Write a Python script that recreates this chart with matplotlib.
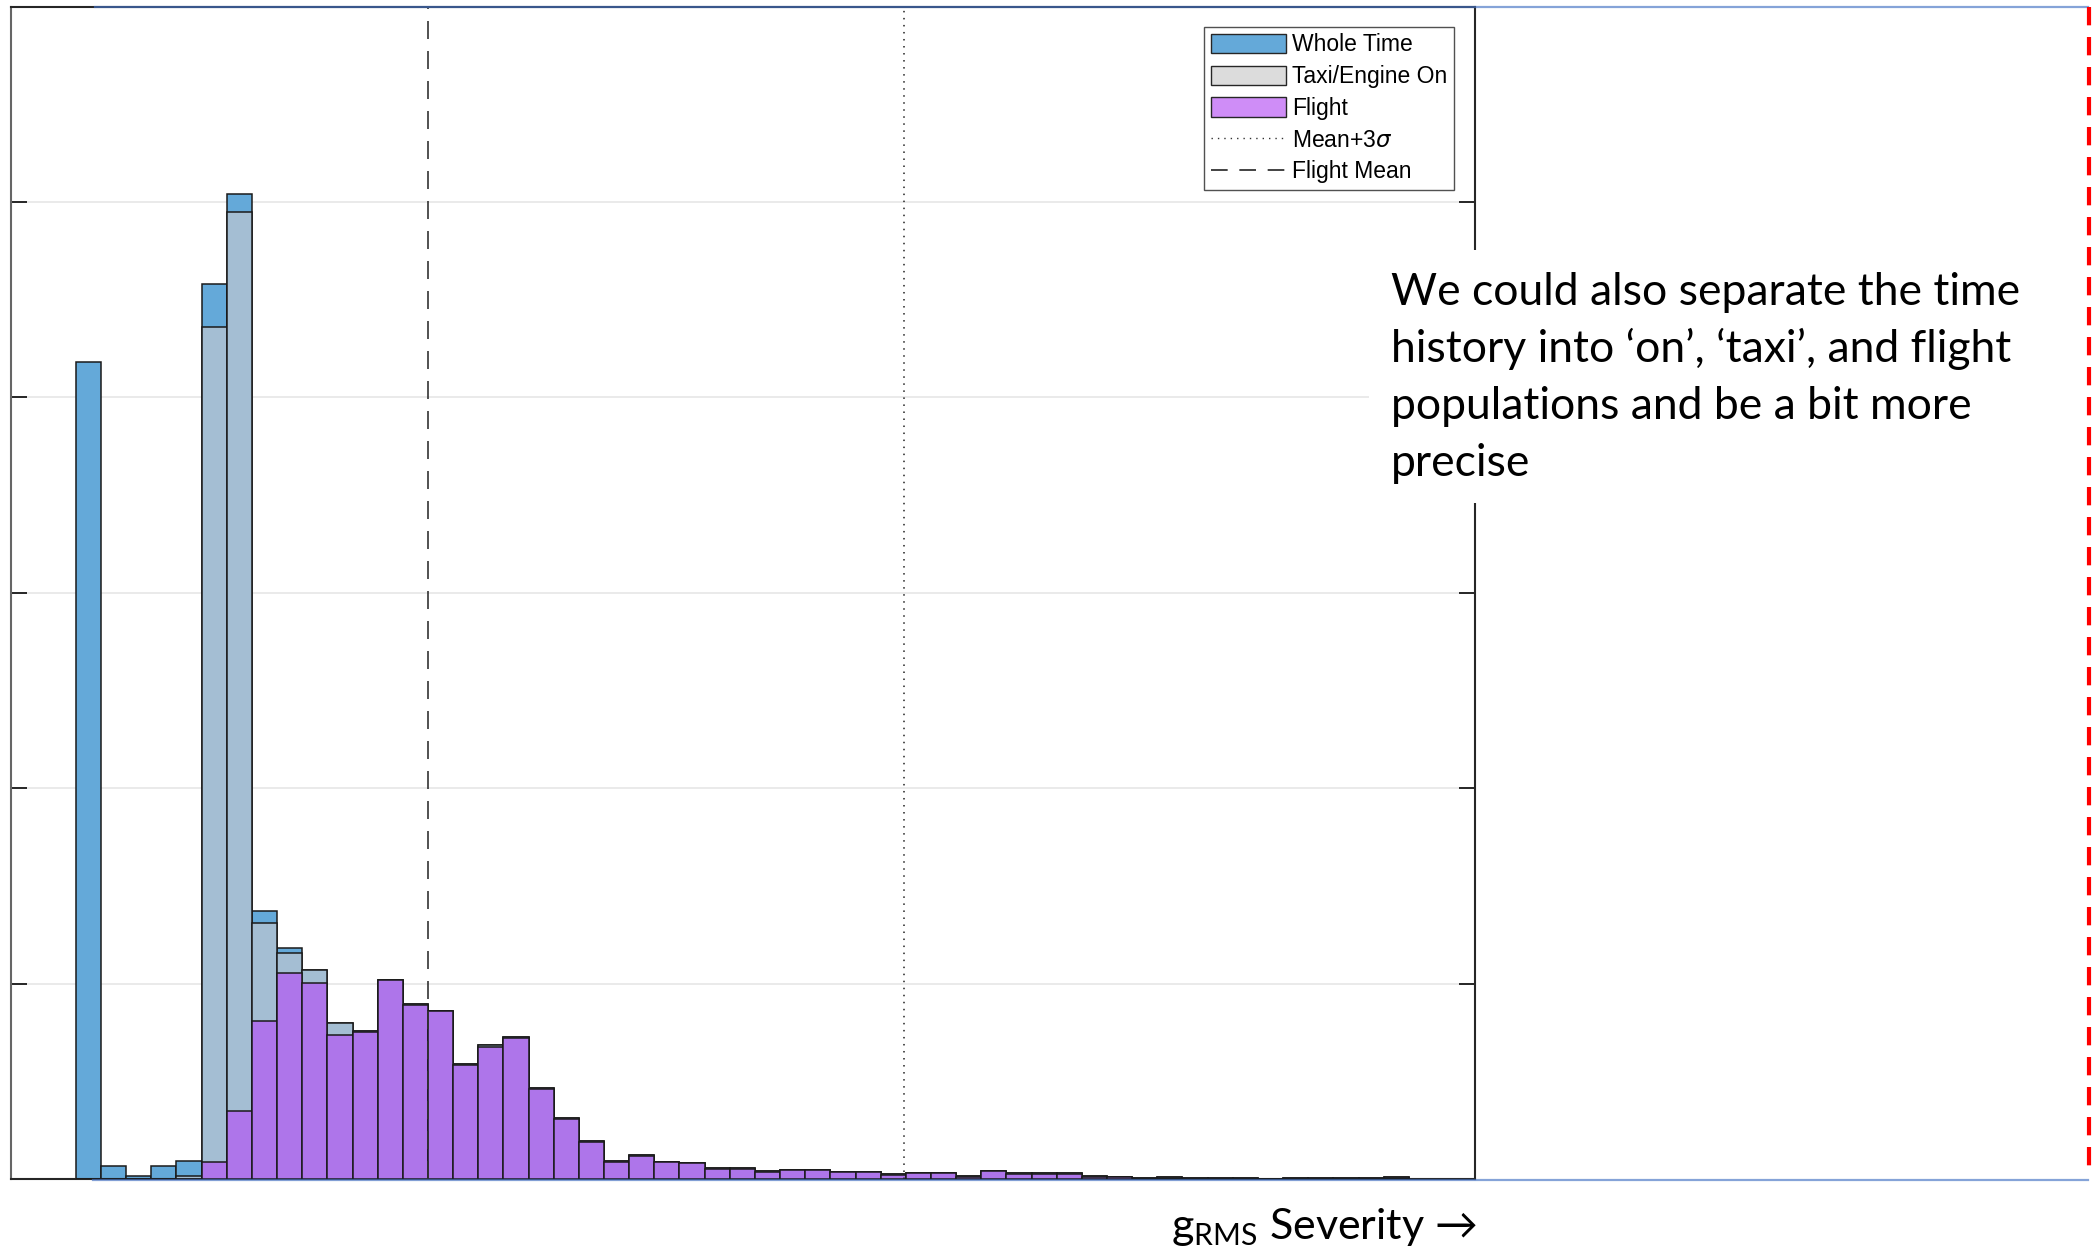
import numpy as np
import matplotlib
matplotlib.use("Agg")
import matplotlib.pyplot as plt
from matplotlib.patches import Patch, Rectangle
from matplotlib.lines import Line2D

plt.rcParams['font.family'] = ['Lato', 'DejaVu Sans']
plt.rcParams['mathtext.fontset'] = 'custom'
plt.rcParams['mathtext.rm'] = 'Lato'

# histogram counts per bin (bin k spans [k, k+1])
whole = [4.18, 0.065, 0.014, 0.065, 0.093, 4.58, 5.04, 1.37, 1.18, 1.07, 0.80, 0.755,
         1.02, 0.897, 0.862, 0.59, 0.685, 0.728, 0.465, 0.314, 0.194, 0.092, 0.121,
         0.087, 0.084, 0.055, 0.055, 0.041, 0.046, 0.046, 0.036, 0.036, 0.024, 0.031,
         0.031, 0.016, 0.041, 0.029, 0.029, 0.029, 0.016, 0.012, 0.003, 0.009, 0.003,
         0.003, 0.003, 0.0, 0.003, 0.003, 0.003, 0.003, 0.009]
taxi = [0, 0, 0, 0, 0.017, 4.36, 4.95, 1.31, 1.157, 1.068, 0.798, 0.755,
        1.02, 0.897, 0.862, 0.588, 0.685, 0.728, 0.465, 0.314, 0.194, 0.092, 0.121,
        0.087, 0.084, 0.055, 0.055, 0.041, 0.046, 0.046, 0.036, 0.036, 0.024, 0.031,
        0.031, 0.016, 0.041, 0.029, 0.029, 0.029, 0.016, 0.012, 0.003, 0.009, 0.003,
        0.003, 0.003, 0.0, 0.003, 0.003, 0.003, 0.003, 0.009]
flight = [0, 0, 0, 0, 0, 0.087, 0.347, 0.809, 1.053, 1.004, 0.735, 0.752,
          1.016, 0.893, 0.858, 0.585, 0.673, 0.72, 0.462, 0.305, 0.19, 0.088, 0.118,
          0.085, 0.082, 0.053, 0.053, 0.035, 0.044, 0.044, 0.034, 0.034, 0.018, 0.029,
          0.029, 0.010, 0.039, 0.027, 0.027, 0.027, 0.012, 0.010, 0.001, 0.007, 0.002,
          0.002, 0.0, 0.0, 0.002, 0.002, 0.002, 0.002, 0.007]
flight_mean = 14.02
mean_3sigma = 32.92

labels = ['Whole Time', 'Taxi/Engine On', 'Flight', r'Mean+3$\sigma$', 'Flight Mean']
note = ["We could also separate the time",
        "history into \u2018on\u2019, \u2018taxi\u2019, and flight",
        "populations and be a bit more",
        "precise"]
xlabel = r'g$_{\mathrm{RMS}}$' + ' Severity \u2192'

W, H = 2100, 1259
fig = plt.figure(figsize=(21, 12.59), dpi=100)
ax = fig.add_axes([10.7 / W, 1 - 1179 / H, (1475 - 10.7) / W, (1179 - 6.6) / H])

bins = np.arange(len(whole))
ax.bar(bins, whole, width=1, align='edge', color='#64A9D9', edgecolor='#1a1a1a', linewidth=1.1, zorder=2)
ax.bar(bins, taxi, width=1, align='edge', color='#A4BED3', edgecolor='#1a1a1a', linewidth=1.1, zorder=3)
ax.bar(bins, flight, width=1, align='edge', color='#AE75EA', edgecolor='#1a1a1a', linewidth=1.1, zorder=4)

ax.axvline(mean_3sigma, color='#222222', lw=1.1, ls=(0, (1, 3.6)), zorder=5)
ax.axvline(flight_mean, color='#333333', lw=1.2, ls=(0, (10.8, 7.2)), zorder=5)

ax.set_xlim(-2.59, 55.63)
ax.set_ylim(0, 6)
ax.set_yticks(range(7))
ax.set_xticks([])
ax.yaxis.grid(True, color='#e6e6e6', lw=1.2, zorder=0)
ax.set_axisbelow(True)
ax.tick_params(axis='y', direction='in', length=11.5, width=1.4, color='#262626',
               left=True, right=True, labelleft=False, labelright=False)
for s in ['top', 'right', 'bottom']:
    ax.spines[s].set_color('#262626')
    ax.spines[s].set_linewidth(1.5)
ax.spines['left'].set_color('#666666')
ax.spines['left'].set_linewidth(1.5)

handles = [Patch(facecolor='#64A9D9', edgecolor='#262626', lw=1),
           Patch(facecolor='#DCDCDC', edgecolor='#262626', lw=1),
           Patch(facecolor='#CF8DF7', edgecolor='#262626', lw=1),
           Line2D([], [], color='#333333', lw=1, ls=(0, (1, 3.6))),
           Line2D([], [], color='#222222', lw=1.2, ls=(0, (10, 7)))]
leg = ax.legend(handles, labels, loc='upper right', bbox_to_anchor=((1454 - 10.7) / (1475 - 10.7), 1 - 20 / 1172),
                prop={'family': ['Liberation Sans'], 'size': 16.5},
                frameon=True, fancybox=False, handlelength=3.3, handleheight=0.9,
                labelspacing=0.38, handletextpad=0.25, borderpad=0.3, borderaxespad=0)
leg.get_frame().set_edgecolor('#262626')
leg.get_frame().set_linewidth(1.0)
leg.set_zorder(10)

# slide shape outline and red dashed marker
fig.add_artist(Line2D([95 / W, 2088 / W], [1 - 6.5 / H, 1 - 6.5 / H], transform=fig.transFigure,
                      color='#4472C4', alpha=0.65, lw=1.6, zorder=5))
fig.add_artist(Line2D([93 / W, 2088 / W], [1 - 1179.5 / H, 1 - 1179.5 / H], transform=fig.transFigure,
                      color='#4472C4', alpha=0.65, lw=1.6, zorder=5))
fig.add_artist(Line2D([2089 / W, 2089 / W], [1 - 7 / H, 1 - 1172 / H], transform=fig.transFigure,
                      color='#ff0000', lw=3, ls=(0, (4.4, 2.8)), zorder=6))

# white text box with note
fig.add_artist(Rectangle((1369 / W, 1 - 503 / H), (2050 - 1369) / W, 253 / H, transform=fig.transFigure,
                         facecolor='white', edgecolor='none', zorder=7))
for i, line in enumerate(note):
    fig.text(1391 / W, 1 - (305 + 57 * i) / H, line, fontsize=32, va='baseline', ha='left', zorder=8)

fig.text(1477 / W, 1 - 1239 / H, xlabel, fontsize=31, va='baseline', ha='right')

fig.savefig('out.png', dpi=100)
